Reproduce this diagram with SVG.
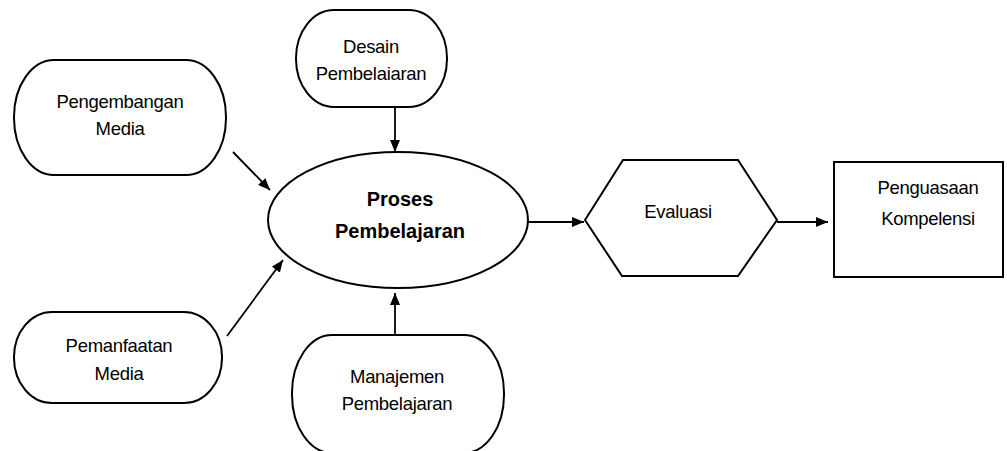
<svg xmlns="http://www.w3.org/2000/svg" width="1007" height="451" viewBox="0 0 1007 451">
<style>
.box{fill:#fff;stroke:#000;stroke-width:2}
.t{font-family:"Liberation Sans Narrow","Liberation Sans",Arial,sans-serif;font-size:18.5px;fill:#000;text-anchor:middle;letter-spacing:-0.3px}
.b{font-family:"Liberation Sans","Arial",sans-serif;font-size:20px;font-weight:bold;fill:#000;text-anchor:middle}
.c{stroke:#000;stroke-width:1.8;fill:none}
</style>
<defs>
<marker id="ah" viewBox="0 0 12 10" refX="12" refY="5" markerWidth="12" markerHeight="10" markerUnits="userSpaceOnUse" orient="auto">
<path d="M0,0 L12,5 L0,10 Z" fill="#000"/>
</marker>
</defs>
<rect width="1007" height="451" fill="#fff"/>
<g id="connectors">
<line class="c" x1="395" y1="108" x2="395" y2="152" marker-end="url(#ah)"/>
<line class="c" x1="233" y1="152" x2="270" y2="190" marker-end="url(#ah)"/>
<line class="c" x1="227" y1="336" x2="283" y2="260" marker-end="url(#ah)"/>
<line class="c" x1="395" y1="335" x2="395" y2="293" marker-end="url(#ah)"/>
<line class="c" x1="528" y1="222" x2="584" y2="222" marker-end="url(#ah)"/>
<line class="c" x1="777" y1="222" x2="828" y2="222" marker-end="url(#ah)"/>
</g>
<g id="pengembangan">
<rect class="box" x="14" y="60" width="212" height="115" rx="40" ry="57"/>
<text class="t" x="120" y="108">Pengembangan</text>
<text class="t" x="120" y="135">Media</text>
</g>
<g id="desain">
<rect class="box" x="296" y="10" width="151" height="97" rx="38" ry="48"/>
<text class="t" x="371" y="53">Desain</text>
<text class="t" x="371" y="80">Pembelaiaran</text>
</g>
<g id="proses">
<ellipse class="box" cx="398" cy="220" rx="130" ry="68"/>
<text class="b" x="400" y="206">Proses</text>
<text class="b" x="400" y="238">Pembelajaran</text>
</g>
<g id="pemanfaatan">
<rect class="box" x="14" y="312" width="208" height="91" rx="38" ry="45"/>
<text class="t" x="119" y="352">Pemanfaatan</text>
<text class="t" x="119" y="380">Media</text>
</g>
<g id="manajemen">
<rect class="box" x="292" y="335" width="212" height="118" rx="40" ry="58"/>
<text class="t" x="397" y="383">Manajemen</text>
<text class="t" x="397" y="410">Pembelajaran</text>
</g>
<g id="evaluasi">
<polygon class="box" points="585,220 623,160 738,160 777,220 738,276 622,276"/>
<text class="t" x="678" y="218">Evaluasi</text>
</g>
<g id="penguasaan">
<rect class="box" x="834" y="162" width="169" height="115"/>
<text class="t" x="928" y="194">Penguasaan</text>
<text class="t" x="928" y="225">Kompelensi</text>
</g>
</svg>
